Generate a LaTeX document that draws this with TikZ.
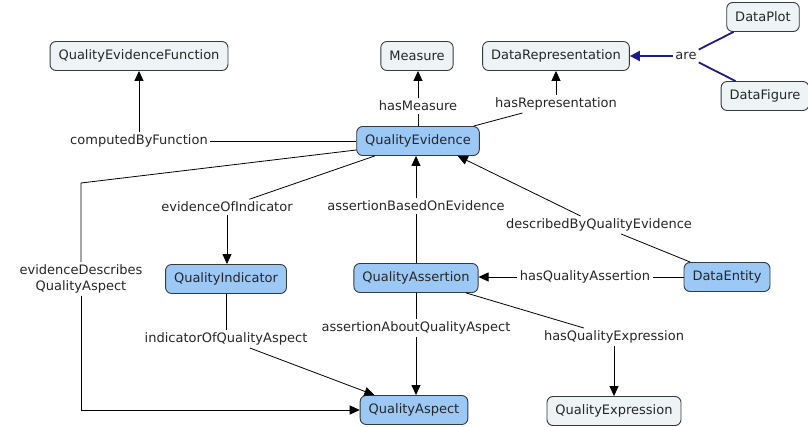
\documentclass[tikz,border=0pt]{standalone}
\usepackage{fontspec}
\setmainfont{DejaVu Sans}
\usetikzlibrary{arrows.meta}
\definecolor{lightfill}{HTML}{EEF3F6}
\definecolor{bluefill}{HTML}{9CC8F6}
\definecolor{edgecol}{HTML}{333A40}
\definecolor{navyline}{HTML}{1C1C8A}
\begin{document}
\begin{tikzpicture}[x=1pt,y=-1pt,
  font=\fontsize{13}{15}\selectfont,
  box/.style={draw=edgecol, line width=0.9pt, rounded corners=6pt, minimum height=29pt, inner xsep=8.5pt, inner ysep=2pt, text=black!85},
  lightbox/.style={box, fill=lightfill},
  bluebox/.style={box, fill=bluefill},
  lbl/.style={inner sep=2.5pt, text=black!85, align=center},
  conn/.style={draw=black, line width=0.8pt},
  arr/.style={conn, -{Triangle[length=10pt,width=9pt]}},
  navyarr/.style={draw=navyline, line width=1.8pt, -{Triangle[length=10pt,width=10pt]}},
  navyconn/.style={draw=navyline, line width=1.8pt}]
\useasboundingbox (0,0) rectangle (808,427);
% concept nodes
\node[lightbox] (qef) at (139,56) {QualityEvidenceFunction};
\node[lightbox] (meas) at (417,56) {Measure};
\node[lightbox] (dr) at (556,56) {DataRepresentation};
\node[lightbox] (dp) at (763,17) {DataPlot};
\node[lightbox] (df) at (765,96) {DataFigure};
\node[bluebox] (qe) at (418,141) {QualityEvidence};
\node[bluebox] (qi) at (226,279) {QualityIndicator};
\node[bluebox] (qas) at (416,278) {QualityAssertion};
\node[bluebox] (de) at (727,277) {DataEntity};
\node[bluebox] (qasp) at (414,410) {QualityAspect};
\node[lightbox] (qex) at (614,411) {QualityExpression};
% link labels
\node[lbl] (lcf) at (139,141) {computedByFunction};
\node[lbl] (lhm) at (418,106) {hasMeasure};
\node[lbl] (lhr) at (556,104) {hasRepresentation};
\node[lbl] (lare) at (686,56) {are};
\node[lbl] (leoi) at (227,207) {evidenceOfIndicator};
\node[lbl] (labe) at (416,206) {assertionBasedOnEvidence};
\node[lbl] (ldbq) at (599,225) {describedByQualityEvidence};
\node[lbl] (ledq) at (81,279) {evidenceDescribes\\[1pt]QualityAspect};
\node[lbl] (lhqa) at (585,277) {hasQualityAssertion};
\node[lbl] (lioq) at (226,339) {indicatorOfQualityAspect};
\node[lbl] (laaq) at (416,328) {assertionAboutQualityAspect};
\node[lbl] (lhqe) at (614,337) {hasQualityExpression};
\coordinate (c1) at (81,183);
\coordinate (c2) at (81,410);
% connectors
\draw[conn] (qe.west) -- (lcf.east);
\draw[arr] (lcf.north) -- (qef.south);
\draw[conn] (qe.north -| lhm.south) -- (lhm.south);
\draw[arr] (lhm.north) -- (lhm.north |- meas.south);
\draw[conn] (qe) -- (lhr);
\draw[arr] (lhr.north) -- (dr.south);
\draw[navyconn] (dp) -- (lare);
\draw[navyconn] (df) -- (lare);
\draw[navyarr] (lare.west) -- (dr.east);
\draw[conn] (qe) -- (leoi);
\draw[arr] (leoi.south) -- (leoi.south |- qi.north);
\draw[conn] ([yshift=-9pt]qe.west) -- (c1) -- (ledq.north);
\draw[arr] (ledq.south) -- (c2) -- (qasp.west);
\draw[conn] (qas.north) -- (labe.south);
\draw[arr] (labe.north) -- (labe.north |- qe.south);
\draw[conn] (de) -- (ldbq);
\draw[arr] (ldbq) -- ([xshift=-22pt]qe.south east);
\draw[conn] (de.west) -- (lhqa.east);
\draw[arr] (lhqa.west) -- (lhqa.west -| qas.east);
\draw[conn] (qi.south) -- (lioq.north -| qi.south);
\draw[arr] (lioq) -- (qasp);
\draw[conn] (qas.south) -- (laaq.north);
\draw[arr] (laaq.south) -- (laaq.south |- qasp.north);
\draw[conn] (qas) -- (lhqe);
\draw[arr] (lhqe.south) -- (qex.north);
\end{tikzpicture}
\end{document}
